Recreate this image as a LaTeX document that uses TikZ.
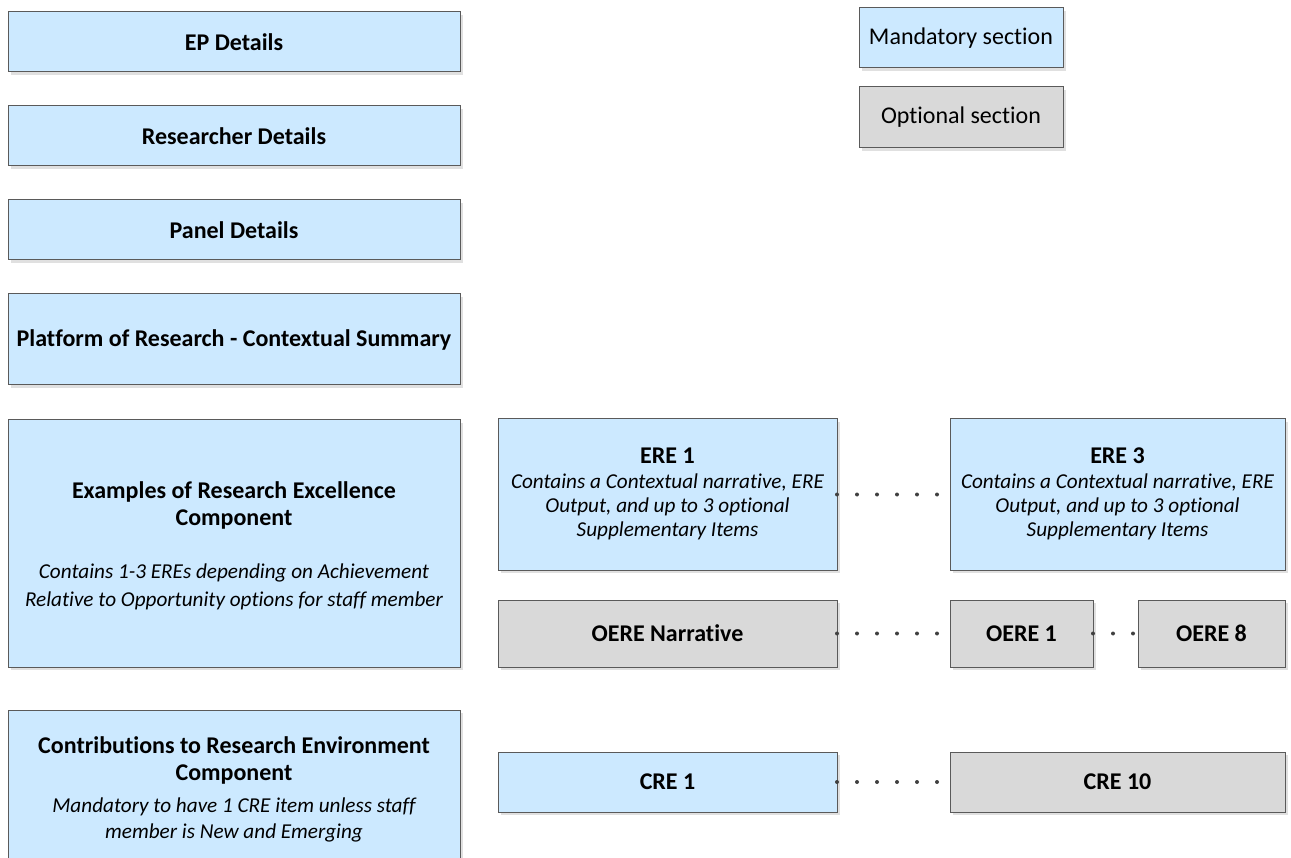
\documentclass[tikz,border=0pt]{standalone}
\usepackage{fontspec}
\setmainfont{Carlito}[Ligatures=NoCommon]
\usetikzlibrary{shadows}
\definecolor{mand}{HTML}{CCE9FF}
\definecolor{opt}{HTML}{D9D9D9}
\definecolor{edgec}{HTML}{5A5A5A}
\definecolor{shad}{HTML}{E0E0E0}
\definecolor{dotc}{HTML}{404040}
\newcommand{\bigb}{\bfseries\fontsize{24}{27}\selectfont}
\newcommand{\itl}{\mdseries\itshape\fontsize{21.2}{24}\selectfont}
\newcommand{\lowered}[2]{\raisebox{-#1}[\height][\depth]{#2}}
\tikzset{
  box/.style={draw=edgec, line width=1pt, inner sep=0pt, outer sep=0pt,
    drop shadow={shadow xshift=3pt, shadow yshift=-3pt, fill=shad, opacity=1},
    font=\bigb},
  mandbox/.style={box, fill=mand},
  optbox/.style={box, fill=opt},
  legbox/.style={box, font=\mdseries\fontsize{24}{27}\selectfont},
  dots/.style={draw=dotc, line width=4pt, line cap=round, dash pattern=on 0pt off 20pt},
}
\begin{document}
\begin{tikzpicture}[x=1pt,y=-1pt]
\useasboundingbox (0,0) rectangle (1291,858);
% left column
\node[mandbox, minimum width=452pt, minimum height=60pt] (ep) at (234,42) {EP Details};
\node[mandbox, minimum width=452pt, minimum height=60pt] (res) at (234,136) {Researcher Details};
\node[mandbox, minimum width=452pt, minimum height=60pt] (pan) at (234,230) {Panel Details};
\node[mandbox, minimum width=452pt, minimum height=91pt] (plat) at (234,339.5) {Platform of Research - Contextual Summary};
\node[mandbox, minimum width=452pt, minimum height=247pt] (ex) at (234,543.5)
  {\lowered{4pt}{\begin{tabular}{@{}c@{}}Examples of Research Excellence\\ Component\\[26pt]
   \itl Contains 1-3 EREs depending on Achievement\\[1pt]
   \itl Relative to Opportunity options for staff member\end{tabular}}};
\node[mandbox, minimum width=452pt, minimum height=156pt] (cont) at (234,788)
  {\lowered{3pt}{\begin{tabular}{@{}c@{}}Contributions to Research Environment\\ Component\\[5pt]
   \itl Mandatory to have 1 CRE item unless staff\\[-1pt]
   \itl member is New and Emerging\end{tabular}}};
% ERE row
\node[mandbox, minimum width=339pt, minimum height=151pt] (ere1) at (667.5,494.5)
  {\begin{tabular}{@{}c@{}}ERE 1\\[-2pt]
   \itl Contains a Contextual narrative, ERE\\[-3pt]
   \itl Output, and up to 3 optional\\[-3pt]
   \itl Supplementary Items\end{tabular}};
\node[mandbox, minimum width=335pt, minimum height=151pt] (ere3) at (1117.5,494.5)
  {\begin{tabular}{@{}c@{}}ERE 3\\[-2pt]
   \itl Contains a Contextual narrative, ERE\\[-3pt]
   \itl Output, and up to 3 optional\\[-3pt]
   \itl Supplementary Items\end{tabular}};
% OERE row
\node[optbox, minimum width=339pt, minimum height=67pt] (oeren) at (667.5,633.5) {OERE Narrative};
\node[optbox, minimum width=143pt, minimum height=67pt] (oere1) at (1021.5,633.5) {OERE 1};
\node[optbox, minimum width=147pt, minimum height=67pt] (oere8) at (1211.5,633.5) {OERE 8};
% CRE row
\node[mandbox, minimum width=339pt, minimum height=60pt] (cre1) at (667.5,782) {CRE 1};
\node[optbox, minimum width=335pt, minimum height=60pt] (cre10) at (1117.5,782) {CRE 10};
% legend
\node[legbox, fill=mand, minimum width=204pt, minimum height=60pt] (legm) at (961,38) {Mandatory section};
\node[legbox, fill=opt, minimum width=204pt, minimum height=61pt] (lego) at (961,117.5) {Optional section};
% dotted connectors
\draw[dots] (ere1.east) -- (ere3.west);
\draw[dots] (oeren.east) -- (oere1.west);
\draw[dots] (oere1.east) -- (oere8.west);
\draw[dots] (cre1.east) -- (cre10.west);
\end{tikzpicture}
\end{document}
